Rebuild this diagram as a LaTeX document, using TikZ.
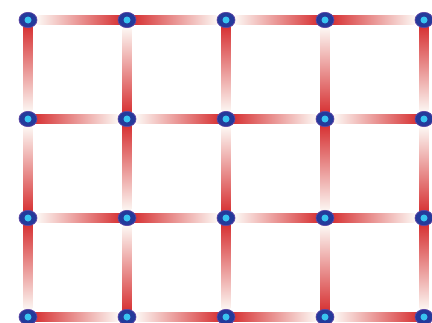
\documentclass[tikz,border=0pt]{standalone}
\usepackage{tikz}
\usetikzlibrary{positioning,calc,shapes.geometric}
\usepackage{xcolor}

\definecolor{edgered}{RGB}{212,36,38}
\definecolor{edgemid}{RGB}{232,140,112}
\definecolor{edgelight}{RGB}{252,246,242}
\definecolor{siteblue}{RGB}{36,58,155}
\definecolor{siterim}{RGB}{95,70,165}
\definecolor{sitecyan}{RGB}{56,196,240}

\pgfdeclarelayer{bg}
\pgfsetlayers{bg,main}

\begin{document}
\begin{tikzpicture}[
    site/.style={
        ellipse,
        draw=siterim,
        line width=0.6pt,
        fill=siteblue,
        minimum width=0.54cm,
        minimum height=0.46cm,
        inner sep=0pt,
        path picture={\fill[sitecyan] (path picture bounding box.center) circle (0.105);}
    }
]
\useasboundingbox (0,0) rectangle (12.96,9.66);

% lattice sites
\foreach \i in {0,...,4} {
    \foreach \j in {0,...,3} {
        \node[site] (n-\i-\j) at ({0.84+2.97*\i},{9.06-2.97*\j}) {};
    }
}

\begin{pgfonlayer}{bg}
% horizontal bonds
\foreach \i in {0,...,3} {
    \foreach \j in {0,...,3} {
        \pgfmathtruncatemacro{\k}{\i+1}
        \pgfmathtruncatemacro{\parity}{mod(\i+\j,2)}
        \ifnum\parity=1
            \shade[left color=edgered, middle color=edgemid, right color=edgelight]
                ($(n-\i-\j.center)+(0,-0.13)$) rectangle ($(n-\k-\j.west)+(0,0.13)$);
        \else
            \shade[left color=edgelight, middle color=edgemid, right color=edgered]
                ($(n-\i-\j.east)+(0,-0.13)$) rectangle ($(n-\k-\j.center)+(0,0.13)$);
        \fi
    }
}
% vertical bonds
\foreach \i in {0,...,4} {
    \foreach \j in {0,...,2} {
        \pgfmathtruncatemacro{\k}{\j+1}
        \pgfmathtruncatemacro{\parity}{mod(\i+\j,2)}
        \ifnum\parity=0
            \shade[top color=edgered, middle color=edgemid, bottom color=edgelight]
                ($(n-\i-\j.center)+(-0.13,0)$) rectangle ($(n-\i-\k.north)+(0.13,0)$);
        \else
            \shade[top color=edgelight, middle color=edgemid, bottom color=edgered]
                ($(n-\i-\j.south)+(-0.13,0)$) rectangle ($(n-\i-\k.center)+(0.13,0)$);
        \fi
    }
}
\end{pgfonlayer}
\end{tikzpicture}
\end{document}
